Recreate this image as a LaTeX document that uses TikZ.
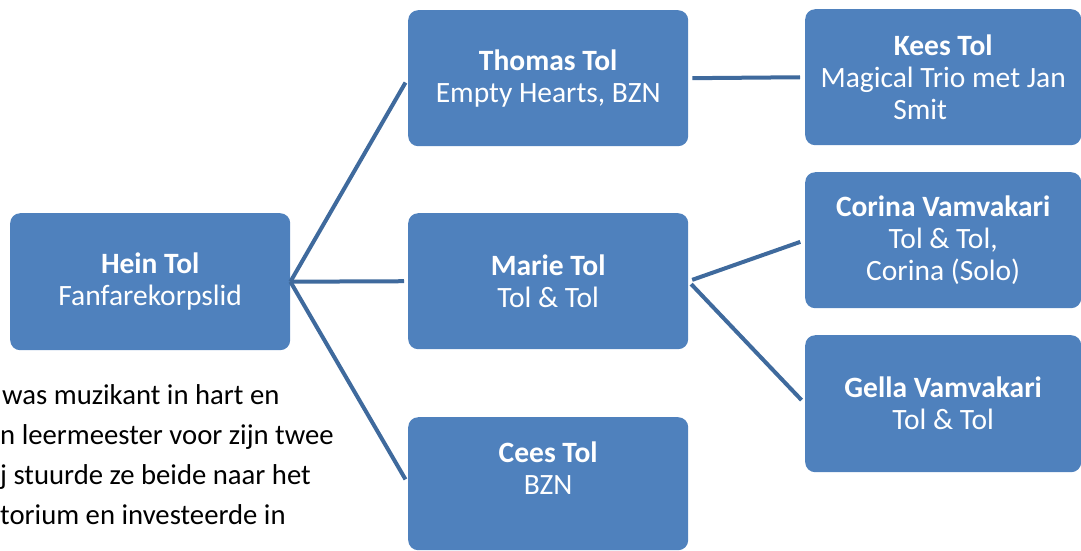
\documentclass[tikz,border=0pt]{standalone}
\usepackage{fontspec}
\setmainfont{Carlito}
\definecolor{boxblue}{HTML}{4F81BD}
\definecolor{lineblue}{HTML}{3F6A9D}
\begin{document}
\begin{tikzpicture}[x=1pt,y=-1pt,
  person/.style={draw=none, fill=boxblue, rounded corners=10pt, text=white,
    align=center, font=\fontsize{29.5}{32}\selectfont,
    minimum width=280pt, minimum height=136pt, inner sep=0pt,
    anchor=north west},
  link/.style={draw=lineblue, line width=4pt},
  body/.style={anchor=base west, inner sep=0pt, font=\fontsize{28.7}{40}\selectfont}
]
\useasboundingbox (0,0) rectangle (1081,550);

\node[person, minimum height=137pt] (hein) at (10,213) {\textbf{Hein Tol}\\Fanfarekorpslid};
\node[person] (thomas) at (408,10) {\textbf{Thomas Tol}\\Empty Hearts, BZN};
\node[person] (marie) at (408,213) {\textbf{Marie Tol}\\Tol \& Tol};
\node[person, minimum height=133pt] (cees) at (408,417) {\textbf{Cees Tol}\\BZN\\\mbox{}};
\node[person, minimum width=276pt] (kees) at (805,9) {\textbf{Kees Tol}\\Magical Trio met Jan\\Smit\kern46pt};
\node[person, minimum width=276pt] (corina) at (805,172) {\textbf{Corina Vamvakari}\\Tol \& Tol,\\Corina (Solo)};
\node[person, minimum width=276pt, minimum height=137pt] (gella) at (805,335) {\textbf{Gella Vamvakari}\\Tol \& Tol};

\draw[link, shorten >=5pt] (hein.east) -- (thomas.west);
\draw[link, shorten >=4pt] (hein.east) -- (marie.west);
\draw[link, shorten >=5pt] (hein.east) -- (cees.west);
\draw[link, shorten <=4pt, shorten >=5pt] (thomas.east) -- (kees.west);
\draw[link, shorten <=4pt, shorten >=5pt] (marie.east) -- (corina.west);
\draw[link, shorten <=4pt, shorten >=5pt] (marie.east) -- (gella.west);

\node[body] (t1) at (2,404) {was muzikant in hart en};
\node[body] (t2) at (0,444) {n leermeester voor zijn twee};
\node[body] (t3) at (0,484) {j stuurde ze beide naar het};
\node[body] (t4) at (0,524) {torium en investeerde in};
\end{tikzpicture}
\end{document}
